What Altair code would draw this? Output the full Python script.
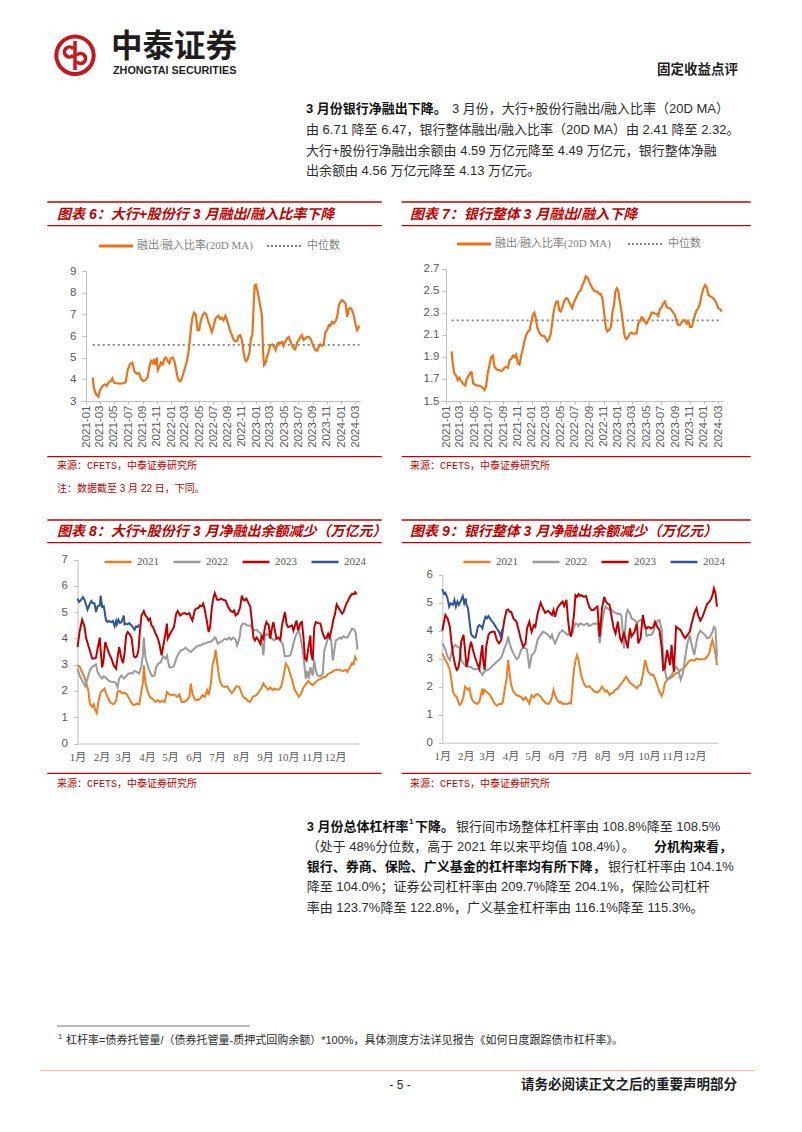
import altair as alt
import pandas as pd

# ---------------- text content ----------------
BRAND_CN = "中泰证券"
BRAND_EN = "ZHONGTAI SECURITIES"
HEADER_TAG = "固定收益点评"
P1_BOLD = "3 月份银行净融出下降。"
P1_LINES = [
    "3 月份，大行+股份行融出/融入比率（20D MA）",
    "由 6.71 降至 6.47，银行整体融出/融入比率（20D MA）由 2.41 降至 2.32。",
    "大行+股份行净融出余额由 4.59 万亿元降至 4.49 万亿元，银行整体净融",
    "出余额由 4.56 万亿元降至 4.13 万亿元。",
]
P2_L1_BOLD_A = "3 月份总体杠杆率"
P2_L1_SUP = "1"
P2_L1_BOLD_B = "下降。"
P2_L1_NORMAL = "银行间市场整体杠杆率由 108.8%降至 108.5%"
P2_L2_NORMAL = "（处于 48%分位数，高于 2021 年以来平均值 108.4%）。"
P2_L2_BOLD = "分机构来看，"
P2_L3_BOLD = "银行、券商、保险、广义基金的杠杆率均有所下降，"
P2_L3_NORMAL = "银行杠杆率由 104.1%"
P2_L4 = "降至 104.0%；证券公司杠杆率由 209.7%降至 204.1%，保险公司杠杆"
P2_L5 = "率由 123.7%降至 122.8%，广义基金杠杆率由 116.1%降至 115.3%。"
TITLE6 = "图表 6：大行+股份行 3 月融出/融入比率下降"
TITLE7 = "图表 7：银行整体 3 月融出/融入下降"
TITLE8 = "图表 8：大行+股份行 3 月净融出余额减少（万亿元）"
TITLE9 = "图表 9：银行整体 3 月净融出余额减少（万亿元）"
SOURCE = "来源：CFETS，中泰证券研究所"
NOTE = "注：数据截至 3 月 22 日，下同。"
LEG_RATIO = "融出/融入比率(20D MA)"
LEG_MED = "中位数"
FOOT_SUP = "1"
FOOTNOTE = "杠杆率=债券托管量/（债券托管量-质押式回购余额）*100%，具体测度方法详见报告《如何日度跟踪债市杠杆率》。"
PAGE_NO = "- 5 -"
DISCLAIMER = "请务必阅读正文之后的重要声明部分"

# ---------------- chart data ----------------
# 图表6: day offsets from 2021-01-01, ratio values
D6 = [29, 34, 43, 53, 60, 72, 82, 89, 96, 106,
      113, 120, 132, 146, 160, 170, 179, 189, 199, 208,
      218, 228, 236, 246, 256, 265, 272, 279, 287, 292,
      298, 304, 308, 315, 322, 330, 337, 344, 351, 358,
      364, 373, 380, 387, 394, 401, 408, 416, 426, 433,
      440, 447, 451, 457, 464, 471, 479, 486, 493, 502,
      509, 516, 523, 533, 540, 547, 555, 562, 569, 576,
      583, 590, 598, 605, 612, 619, 626, 633, 640, 648,
      655, 662, 669, 676, 682, 688, 695, 702, 708, 714,
      719, 724, 729, 737, 745, 751, 755, 760, 764, 770,
      777, 784, 791, 800, 808, 814, 820, 827, 834, 841,
      848, 856, 863, 870, 877, 884, 891, 898, 906, 913,
      920, 927, 934, 942, 949, 956, 963, 970, 977, 984,
      992, 999, 1006, 1013, 1020, 1028, 1035, 1042, 1049, 1056,
      1063, 1071, 1078, 1085, 1092, 1099, 1106, 1114, 1121, 1128,
      1135, 1142, 1149, 1156, 1164, 1168, 1174]
V6 = [4.08, 3.59, 3.31, 3.20, 3.50, 3.70, 3.77, 3.69, 3.85, 3.92,
      4.05, 3.85, 3.82, 3.80, 3.82, 3.86, 4.43, 4.71, 4.77, 4.35,
      4.26, 4.28, 4.02, 3.92, 3.97, 4.12, 4.58, 4.84, 4.74, 4.94,
      4.66, 5.00, 4.43, 4.58, 4.78, 4.69, 4.97, 5.00, 4.84, 4.74,
      4.97, 5.00, 4.81, 4.43, 4.05, 3.92, 3.95, 4.20, 4.58, 4.84,
      5.27, 5.92, 6.42, 6.88, 7.08, 6.99, 6.27, 6.27, 6.73, 6.99,
      7.08, 6.99, 6.73, 6.42, 6.19, 6.42, 6.78, 6.88, 6.93, 6.78,
      6.84, 6.73, 6.93, 6.73, 6.47, 6.22, 6.04, 5.84, 5.76, 5.77,
      6.01, 6.04, 5.81, 5.27, 4.92, 4.84, 4.97, 5.27, 5.89, 6.04,
      7.27, 8.34, 8.37, 8.03, 7.57, 7.19, 6.96, 5.27, 4.66, 4.74,
      5.04, 5.27, 5.58, 5.61, 5.50, 5.35, 5.61, 5.70, 5.66, 5.73,
      5.55, 5.76, 5.89, 5.96, 5.76, 5.58, 5.43, 5.38, 5.70, 5.81,
      5.96, 6.04, 5.81, 5.89, 5.96, 5.96, 5.89, 5.70, 5.50, 5.35,
      5.32, 5.50, 5.61, 5.55, 5.61, 6.19, 6.27, 6.50, 6.47, 6.65,
      6.58, 6.68, 6.88, 7.42, 7.57, 7.65, 7.60, 7.50, 6.88, 7.24,
      7.30, 7.19, 6.96, 6.58, 6.27, 6.35, 6.47]
MED6 = 5.59

# 图表7
D7 = [24, 28, 35, 43, 50, 57, 64, 75, 82, 88,
      96, 104, 109, 115, 123, 132, 142, 149, 156, 163,
      170, 177, 184, 192, 199, 206, 213, 220, 227, 234,
      241, 248, 255, 263, 270, 277, 284, 291, 298, 305,
      312, 319, 326, 333, 341, 348, 355, 362, 369, 375,
      380, 387, 394, 402, 409, 416, 423, 430, 437, 444,
      450, 455, 461, 468, 475, 481, 487, 494, 501, 508,
      515, 522, 529, 536, 543, 551, 558, 565, 572, 579,
      586, 593, 600, 607, 614, 622, 629, 636, 643, 650,
      657, 664, 671, 678, 685, 692, 700, 707, 714, 719,
      725, 731, 738, 745, 752, 759, 766, 773, 780, 787,
      795, 802, 809, 816, 823, 830, 837, 844, 851, 858,
      866, 873, 880, 887, 894, 901, 908, 915, 922, 929,
      937, 944, 951, 958, 965, 972, 979, 986, 993, 1000,
      1007, 1015, 1022, 1029, 1036, 1043, 1050, 1057, 1064, 1071,
      1078, 1085, 1093, 1100, 1107, 1114, 1121, 1128, 1135, 1142,
      1149, 1156, 1164, 1171]
V7 = [1.95, 1.85, 1.75, 1.73, 1.69, 1.71, 1.68, 1.65, 1.64, 1.70,
      1.73, 1.76, 1.76, 1.66, 1.65, 1.64, 1.64, 1.63, 1.62, 1.60,
      1.63, 1.75, 1.82, 1.90, 1.91, 1.81, 1.79, 1.78, 1.78, 1.77,
      1.78, 1.80, 1.81, 1.80, 1.87, 1.88, 1.91, 1.90, 1.92, 1.84,
      1.83, 1.91, 1.97, 2.04, 2.10, 2.13, 2.14, 2.22, 2.28, 2.30,
      2.26, 2.17, 2.13, 2.10, 2.09, 2.09, 2.07, 2.04, 2.06, 2.10,
      2.19, 2.28, 2.35, 2.40, 2.40, 2.32, 2.31, 2.35, 2.40, 2.43,
      2.43, 2.40, 2.37, 2.34, 2.39, 2.43, 2.46, 2.49, 2.50, 2.55,
      2.58, 2.63, 2.62, 2.59, 2.55, 2.52, 2.50, 2.49, 2.49, 2.47,
      2.47, 2.43, 2.31, 2.17, 2.13, 2.14, 2.17, 2.31, 2.38, 2.49,
      2.52, 2.50, 2.40, 2.31, 2.19, 2.08, 2.06, 2.08, 2.11, 2.12,
      2.11, 2.11, 2.11, 2.20, 2.22, 2.26, 2.25, 2.22, 2.20, 2.23,
      2.26, 2.30, 2.30, 2.29, 2.29, 2.27, 2.33, 2.35, 2.38, 2.40,
      2.35, 2.34, 2.34, 2.32, 2.30, 2.28, 2.22, 2.19, 2.19, 2.21,
      2.23, 2.23, 2.20, 2.22, 2.17, 2.17, 2.22, 2.28, 2.32, 2.34,
      2.38, 2.46, 2.52, 2.55, 2.53, 2.46, 2.45, 2.44, 2.43, 2.41,
      2.38, 2.34, 2.33, 2.31]
MED7 = 2.23

YEARS = ["2021", "2022", "2023", "2024"]
YEAR_COLORS = ["#ee7d22", "#9a9a9a", "#c00000", "#2f5597"]

# 图表8: day of year, 万亿元
D8_21 = [0, 3, 8, 11, 14, 16, 19, 21, 23, 25,
         27, 30, 33, 35, 37, 40, 43, 47, 50, 52,
         55, 58, 61, 64, 67, 70, 73, 77, 80, 83,
         85, 86, 88, 91, 94, 97, 101, 104, 107, 110,
         113, 116, 119, 122, 125, 129, 132, 135, 138, 142,
         145, 147, 149, 152, 156, 159, 162, 165, 168, 170,
         173, 175, 178, 179, 181, 183, 185, 188, 191, 194,
         197, 200, 203, 206, 210, 212, 215, 218, 221, 224,
         227, 229, 232, 235, 238, 241, 244, 247, 250, 253,
         255, 258, 261, 264, 267, 270, 273, 276, 279, 281,
         284, 287, 290, 293, 296, 299, 302, 305, 307, 310,
         313, 316, 319, 322, 324, 327, 330, 333, 336, 339,
         342, 345, 348, 350, 353, 356, 358, 360, 362]
V8_21 = [2.97, 2.91, 2.59, 2.34, 2.03, 1.52, 1.39, 1.49, 1.27, 1.16,
         1.58, 1.96, 2.03, 2.09, 1.90, 1.71, 1.54, 1.49, 1.62, 1.96,
         2.00, 1.90, 1.94, 1.87, 1.71, 1.54, 1.46, 1.52, 1.49, 2.03,
         2.34, 2.97, 2.34, 1.96, 1.77, 1.71, 1.58, 1.65, 1.58, 1.62,
         1.58, 1.96, 1.87, 1.84, 1.87, 1.77, 1.87, 1.58, 1.58, 1.65,
         1.77, 2.28, 1.90, 1.67, 1.65, 1.71, 1.84, 1.77, 2.03, 1.84,
         2.28, 2.97, 3.32, 3.57, 3.10, 2.66, 2.34, 2.18, 2.15, 2.18,
         2.03, 1.92, 2.03, 2.18, 2.15, 1.96, 1.77, 1.71, 1.62, 1.58,
         1.77, 1.80, 1.84, 1.96, 2.09, 2.28, 2.15, 2.05, 2.13, 2.03,
         2.09, 2.05, 2.05, 2.15, 2.53, 3.04, 2.91, 2.63, 2.34, 2.09,
         1.92, 1.77, 1.90, 2.13, 2.25, 2.38, 2.28, 2.22, 2.28, 2.38,
         2.43, 2.47, 2.53, 2.53, 2.63, 2.68, 2.72, 2.78, 2.81, 2.81,
         2.78, 2.76, 2.81, 2.72, 2.89, 3.06, 3.01, 3.29, 3.16]
D8_22 = [0, 3, 7, 10, 13, 16, 19, 22, 24, 26,
         29, 32, 34, 36, 39, 41, 44, 48, 50, 52,
         54, 57, 60, 63, 65, 68, 71, 74, 77, 80,
         83, 85, 86, 88, 91, 94, 97, 100, 102, 105,
         108, 111, 114, 116, 119, 122, 125, 128, 131, 134,
         137, 140, 144, 147, 150, 153, 157, 160, 163, 166,
         169, 172, 175, 178, 179, 182, 185, 188, 191, 194,
         197, 199, 202, 205, 207, 210, 212, 214, 217, 220,
         224, 227, 229, 232, 235, 238, 241, 243, 246, 249,
         252, 255, 257, 260, 264, 266, 269, 272, 276, 279,
         281, 284, 287, 289, 292, 294, 296, 298, 300, 302,
         305, 307, 309, 311, 315, 318, 320, 322, 324, 327,
         329, 331, 333, 335, 337, 340, 342, 345, 348, 350,
         353, 356, 359, 361, 363]
V8_22 = [2.85, 2.56, 2.34, 2.18, 2.47, 2.78, 2.91, 2.97, 3.01, 2.72,
         2.56, 2.47, 2.56, 2.53, 2.43, 2.38, 2.34, 2.34, 2.28, 2.13,
         2.47, 2.59, 2.47, 2.56, 2.63, 2.68, 2.66, 2.76, 2.72, 2.66,
         2.97, 3.42, 4.03, 3.29, 2.97, 2.72, 2.56, 2.59, 2.91, 3.04,
         3.10, 3.32, 3.23, 3.35, 2.91, 2.89, 2.94, 3.23, 3.42, 3.54,
         3.57, 3.65, 3.54, 3.48, 3.57, 3.65, 3.73, 3.73, 3.80, 3.80,
         3.86, 3.86, 3.92, 4.03, 4.03, 3.80, 3.86, 3.90, 3.99, 3.95,
         4.03, 3.95, 4.03, 3.95, 3.73, 3.99, 4.46, 4.56, 4.56, 4.49,
         4.49, 4.37, 4.30, 4.33, 4.24, 4.18, 3.35, 4.11, 4.18, 4.05,
         3.99, 3.92, 3.99, 4.03, 3.86, 3.80, 3.32, 3.32, 3.35, 3.67,
         3.92, 4.18, 4.30, 4.05, 3.54, 3.04, 2.47, 2.76, 2.47, 2.91,
         2.59, 3.16, 2.78, 2.59, 2.56, 2.66, 3.54, 3.73, 3.95, 4.11,
         3.92, 3.16, 3.54, 3.92, 3.95, 4.03, 3.99, 4.08, 4.03, 4.03,
         4.20, 4.37, 4.33, 4.18, 3.57]
D8_23 = [0, 3, 6, 9, 11, 14, 16, 19, 22, 24,
         26, 29, 30, 32, 34, 36, 38, 41, 44, 47,
         50, 52, 54, 57, 59, 61, 63, 65, 67, 70,
         73, 75, 77, 79, 81, 83, 86, 88, 90, 92,
         94, 96, 98, 101, 103, 105, 107, 109, 111, 114,
         116, 117, 119, 122, 125, 128, 130, 133, 136, 139,
         142, 145, 147, 149, 152, 154, 157, 159, 161, 163,
         165, 168, 170, 172, 174, 176, 178, 181, 184, 186,
         189, 192, 195, 198, 201, 203, 205, 208, 211, 213,
         215, 217, 219, 222, 224, 226, 228, 230, 232, 235,
         237, 239, 241, 243, 245, 248, 250, 252, 254, 256,
         258, 260, 263, 265, 267, 269, 271, 273, 276, 278,
         280, 282, 284, 286, 289, 291, 293, 295, 297, 299,
         302, 303, 305, 307, 309, 312, 315, 317, 319, 321,
         323, 325, 327, 330, 332, 334, 336, 338, 340, 343,
         345, 347, 349, 351, 353, 356, 358, 360, 362]
V8_23 = [3.67, 4.30, 4.71, 4.46, 4.03, 3.73, 3.54, 3.23, 3.23, 3.27,
         3.61, 4.03, 3.54, 2.89, 3.23, 3.86, 3.67, 3.42, 3.23, 2.97,
         2.85, 3.29, 3.67, 3.23, 3.06, 3.42, 4.11, 4.24, 4.18, 4.03,
         3.32, 3.27, 3.32, 3.54, 4.30, 4.87, 5.04, 4.87, 4.81, 4.68,
         4.75, 4.49, 4.43, 4.20, 4.08, 3.92, 3.67, 3.35, 3.67, 4.18,
         4.56, 3.99, 4.11, 4.28, 4.43, 4.94, 5.04, 4.87, 4.94, 4.96,
         4.91, 4.96, 4.81, 4.68, 5.06, 5.13, 5.16, 5.25, 5.22, 5.32,
         5.09, 4.62, 4.24, 4.43, 5.13, 5.51, 5.72, 5.47, 5.47, 5.51,
         5.47, 5.44, 5.22, 5.06, 5.00, 5.06, 4.87, 4.94, 5.19, 5.63,
         5.47, 5.44, 5.51, 5.32, 5.22, 4.68, 4.05, 3.92, 4.03, 3.92,
         3.80, 4.08, 3.99, 4.43, 4.62, 4.49, 3.99, 4.37, 4.62, 4.30,
         3.99, 4.03, 3.95, 4.46, 4.75, 5.00, 4.56, 4.43, 4.46, 4.49,
         4.30, 4.49, 4.68, 4.30, 4.58, 4.62, 4.03, 3.23, 3.16, 3.57,
         4.11, 3.42, 3.16, 4.43, 4.62, 4.58, 4.56, 4.30, 4.11, 3.99,
         4.03, 4.18, 4.03, 4.43, 4.75, 4.94, 5.29, 5.19, 5.09, 4.94,
         5.00, 5.19, 5.34, 5.44, 5.57, 5.70, 5.67, 5.76, 5.67]
D8_24 = [0, 2, 4, 7, 9, 11, 13, 16, 18, 20,
         22, 24, 26, 29, 30, 32, 34, 35, 37, 39,
         41, 44, 46, 48, 50, 51, 53, 55, 57, 60,
         61, 63, 65, 67, 70, 72, 74, 76, 78, 80]
V8_24 = [5.51, 5.38, 5.44, 5.57, 5.47, 5.29, 5.09, 5.32, 5.42, 5.34,
         5.34, 5.00, 5.22, 5.25, 5.63, 5.19, 5.22, 5.06, 4.68, 4.62,
         4.66, 4.62, 4.66, 4.46, 4.66, 4.53, 4.71, 4.58, 4.62, 4.87,
         4.53, 4.56, 4.53, 4.58, 4.49, 4.41, 4.33, 4.46, 4.43, 4.53]

# 图表9: day of year (shared by 2021-2023), 万亿元
D9 = [0, 4, 7, 10, 12, 14, 17, 19, 21, 23,
      25, 28, 30, 32, 34, 36, 38, 40, 43, 46,
      49, 51, 53, 54, 56, 58, 61, 63, 66, 69,
      72, 75, 78, 80, 82, 85, 87, 89, 91, 94,
      98, 101, 104, 107, 110, 112, 115, 118, 121, 123,
      126, 130, 133, 136, 140, 143, 145, 147, 149, 152,
      155, 157, 159, 161, 164, 166, 168, 170, 172, 174,
      176, 178, 180, 182, 184, 187, 190, 192, 194, 197,
      200, 202, 205, 208, 211, 214, 216, 218, 221, 223,
      226, 229, 232, 235, 237, 240, 243, 245, 248, 250,
      254, 257, 259, 262, 265, 268, 270, 272, 276, 279,
      281, 284, 287, 290, 292, 294, 297, 301, 303, 306,
      309, 312, 315, 318, 321, 324, 327, 329, 333, 336,
      338, 341, 344, 347, 350, 353, 355, 357, 359, 361,
      363]
V9_21 = [3.19, 2.95, 2.81, 2.60, 2.24, 1.82, 1.67, 1.64, 1.46, 1.35,
         1.40, 1.64, 2.00, 1.94, 1.88, 1.94, 1.64, 1.50, 1.43, 1.38,
         1.46, 1.70, 1.94, 1.76, 1.88, 1.82, 1.76, 1.70, 1.55, 1.40,
         1.32, 1.38, 1.38, 1.46, 1.82, 2.30, 2.95, 2.48, 2.06, 1.82,
         1.70, 1.67, 1.64, 1.52, 1.62, 1.55, 1.40, 1.70, 1.62, 1.70,
         1.74, 1.64, 1.52, 1.43, 1.38, 1.46, 1.64, 1.88, 1.70, 1.52,
         1.43, 1.46, 1.38, 1.40, 1.38, 1.40, 1.43, 1.40, 2.00, 2.60,
         2.93, 3.13, 2.95, 2.65, 2.36, 2.12, 2.00, 2.00, 2.02, 1.94,
         1.86, 1.82, 1.79, 1.86, 2.00, 1.90, 1.82, 1.86, 1.70, 1.76,
         1.79, 1.90, 1.94, 2.06, 2.12, 2.24, 2.36, 2.26, 2.14, 2.10,
         2.02, 1.94, 2.02, 2.06, 2.42, 2.95, 2.74, 2.54, 2.42, 2.42,
         2.30, 2.06, 1.82, 1.67, 1.82, 2.12, 2.24, 2.36, 2.33, 2.42,
         2.48, 2.50, 2.60, 2.65, 2.71, 2.83, 2.93, 2.95, 2.93, 3.01,
         2.98, 2.98, 2.98, 2.98, 3.07, 3.21, 3.49, 3.67, 3.45, 3.19,
         2.77]
V9_22 = [3.55, 3.35, 3.07, 2.95, 3.19, 3.37, 3.49, 3.45, 3.40, 3.40,
         2.95, 2.83, 2.77, 2.71, 2.74, 2.69, 2.71, 2.65, 2.62, 2.65,
         2.60, 2.50, 2.42, 2.48, 2.54, 2.57, 2.62, 2.65, 2.74, 2.81,
         2.89, 2.95, 3.05, 3.19, 3.37, 3.55, 3.79, 3.55, 3.37, 3.19,
         2.98, 3.05, 3.31, 3.40, 3.37, 3.33, 2.65, 3.13, 3.19, 3.31,
         3.69, 3.85, 3.96, 3.93, 3.85, 3.73, 3.85, 3.67, 3.55, 3.73,
         3.93, 3.96, 4.02, 3.96, 3.88, 3.85, 3.90, 3.85, 3.90, 4.14,
         4.26, 4.24, 4.17, 4.26, 4.24, 4.20, 4.24, 4.26, 4.17, 4.20,
         4.26, 4.24, 4.29, 3.55, 4.26, 4.74, 4.86, 4.80, 4.74, 4.76,
         4.68, 4.64, 4.60, 4.60, 4.50, 3.37, 4.56, 4.74, 4.62, 4.44,
         4.38, 4.29, 4.33, 4.38, 4.36, 4.14, 3.81, 3.85, 3.85, 3.96,
         4.17, 4.33, 4.38, 4.02, 3.07, 2.60, 2.24, 2.30, 2.42, 2.54,
         2.71, 2.60, 2.25, 2.48, 3.07, 3.55, 3.85, 3.57, 3.13, 3.61,
         3.85, 4.00, 3.93, 3.85, 3.73, 3.76, 3.85, 3.96, 4.14, 4.07,
         3.07]
V9_23 = [4.00, 4.56, 4.44, 4.14, 3.61, 3.19, 2.77, 2.60, 2.65, 2.95,
         3.61, 3.85, 3.33, 2.71, 2.95, 3.37, 3.61, 3.37, 3.07, 2.83,
         2.65, 3.13, 3.49, 2.95, 2.60, 3.43, 3.85, 3.93, 3.96, 3.96,
         3.67, 3.55, 3.67, 4.02, 4.38, 4.74, 4.76, 4.68, 4.68, 4.44,
         4.32, 4.02, 3.67, 3.43, 3.55, 4.08, 4.32, 3.96, 4.20, 4.14,
         4.62, 5.00, 4.80, 4.64, 4.71, 4.62, 4.56, 4.74, 4.50, 4.80,
         4.92, 4.98, 5.04, 4.88, 5.10, 4.44, 3.96, 3.79, 4.14, 4.56,
         5.27, 5.21, 5.31, 5.24, 5.27, 5.21, 5.24, 5.04, 4.86, 4.74,
         4.74, 4.80, 4.86, 3.79, 4.80, 5.21, 5.04, 4.98, 4.92, 4.62,
         4.14, 3.90, 4.32, 3.73, 3.61, 3.90, 3.61, 3.37, 4.08, 3.79,
         3.96, 4.26, 3.55, 3.73, 4.56, 4.14, 4.08, 4.14, 4.08, 4.14,
         4.32, 4.14, 4.02, 3.37, 2.60, 2.65, 3.31, 2.77, 3.49, 2.54,
         4.14, 4.08, 4.02, 3.85, 3.73, 3.85, 3.96, 4.20, 4.62, 4.80,
         4.56, 4.36, 4.50, 4.74, 4.95, 5.04, 5.12, 5.27, 5.51, 5.33,
         4.86]
D9_24 = [0, 2, 4, 7, 9, 11, 14, 16, 18, 20,
         22, 25, 27, 29, 31, 32, 34, 36, 38, 40,
         42, 44, 47, 49, 51, 53, 55, 57, 59, 61,
         64, 66, 68, 70, 72, 75, 77, 79, 81]
V9_24 = [5.48, 5.33, 5.36, 5.15, 4.86, 4.98, 4.92, 5.10, 4.86, 5.04,
         4.92, 5.10, 5.24, 4.98, 5.15, 4.92, 4.80, 4.32, 3.88, 3.81,
         3.76, 3.76, 4.14, 4.20, 4.17, 4.08, 4.32, 4.50, 4.44, 4.52,
         4.40, 4.32, 4.26, 4.17, 4.08, 3.96, 3.81, 4.02, 4.08]

# ---------------- layout / style ----------------
W, H = 786, 1116
M = 8  # page margin: page pixel -> chart pixel


def P(v):
    return v - M


CJK = "Noto Sans CJK SC"
SANS = "Liberation Sans, Noto Sans CJK SC"
SERIF = "Liberation Serif, Noto Sans CJK SC"
MONO = "Liberation Mono, Noto Sans CJK SC"
RED = "#c00000"
LOGO_RED = "#c8161e"
ORANGE = "#e8731c"
BODY = "#2b2b2b"
AXIS_GRAY = "#bfbfbf"
LABEL_GRAY = "#595959"

ONE = pd.DataFrame({"k": [0]})


def T(s, x, y, size=13, weight="normal", color=BODY, font=SANS, align="left", style="normal"):
    return alt.Chart(ONE).mark_text(
        align=align, baseline="middle", fontSize=size, fontWeight=weight,
        fontStyle=style, color=color, font=font
    ).encode(x=alt.value(P(x)), y=alt.value(P(y)), text=alt.value(s))


def HR(x1, x2, y, color, width=1.0, dash=None):
    kw = dict(color=color, strokeWidth=width)
    if dash:
        kw["strokeDash"] = dash
    return alt.Chart(ONE).mark_rule(**kw).encode(
        x=alt.value(P(x1)), x2=alt.value(P(x2)), y=alt.value(P(y)))


def VR(x, y1, y2, color, width=1.0):
    return alt.Chart(ONE).mark_rule(color=color, strokeWidth=width).encode(
        x=alt.value(P(x)), y=alt.value(P(y1)), y2=alt.value(P(y2)))


def ARC(cx, cy, r_in, r_out, t1, t2, color):
    return alt.Chart(ONE).mark_arc(
        innerRadius=r_in, outerRadius=r_out, theta=t1, theta2=t2, color=color
    ).encode(x=alt.value(P(cx)), y=alt.value(P(cy)))


def dt(y, m, d):
    return alt.DateTime(year=y, month=m, date=d)


def ax(**kw):
    base = dict(domainColor=AXIS_GRAY, tickColor=AXIS_GRAY, labelColor=LABEL_GRAY,
                grid=False, title=None, labelOverlap=False, labelFlush=False,
                domainWidth=1)
    base.update(kw)
    return alt.Axis(**base)


PI = 3.14159265

layers = []

# ---- header ----
layers += [
    ARC(75, 55.3, 16.7, 20.7, 0, 2 * PI, LOGO_RED),
    VR(75, 41, 70, LOGO_RED, 3.5),
    ARC(69.5, 52, 3.2, 6.8, 0.72 * PI, 2.28 * PI, LOGO_RED),
    ARC(80.5, 58.5, 3.2, 6.8, 1.72 * PI, 3.28 * PI, LOGO_RED),
    T(BRAND_CN, 111, 47.5, size=31.5, weight="bold", color="#1e1e1e", font=CJK),
    T(BRAND_EN, 113, 71.3, size=10.8, weight="bold", color="#1e1e1e", font="Liberation Sans"),
    T(HEADER_TAG, 657, 70, size=13.5, weight="bold", color="#1e1e1e", font=CJK),
]

# ---- paragraph 1 ----
P1_Y = [109, 130, 150.7, 171.3]
layers.append(T(P1_BOLD, 306, P1_Y[0], weight="bold", color="#111111"))
layers.append(T(P1_LINES[0], 452, P1_Y[0]))
for s, y in zip(P1_LINES[1:], P1_Y[1:]):
    layers.append(T(s, 306, y))

# ---- chart blocks: titles, rules, sources ----
for (x1, x2, tx, title) in [(47.3, 381.7, 57, TITLE6), (401.7, 750.7, 410, TITLE7)]:
    layers += [HR(x1, x2, 202, RED, 1.3), HR(x1, x2, 225.7, RED, 1.3),
               T(title, tx, 214.5, size=14, weight="bold", color=RED, style="italic"),
               HR(x1, x2, 456.7, RED, 1.3),
               T(SOURCE, tx, 465.7, size=10, color=RED, font=MONO)]
layers.append(T(NOTE, 57, 489, size=10, color=RED, font=SANS))
for (x1, x2, tx, title) in [(47.3, 381.7, 57, TITLE8), (401.7, 750.7, 410, TITLE9)]:
    layers += [HR(x1, x2, 520, RED, 1.3), HR(x1, x2, 542.7, RED, 1.3),
               T(title, tx, 531.5, size=14, weight="bold", color=RED, style="italic"),
               HR(x1, x2, 773.3, RED, 1.3),
               T(SOURCE, tx, 784, size=10, color=RED, font=MONO)]

# legends of charts 6 / 7
for (lx, ly, tx, dx, tdx) in [(99, 246, 137, 267, 307), (457, 244, 495, 628, 668)]:
    layers += [HR(lx, lx + 34, ly, ORANGE, 3),
               T(LEG_RATIO, tx, ly, size=11, color="#7f7f7f", font=SERIF),
               HR(dx, dx + 34, ly, "#7f7f7f", 2, dash=[2, 2]),
               T(LEG_MED, tdx, ly, size=11, color="#7f7f7f", font=SERIF)]

# ---- paragraph 2 ----
P2_Y = [826.7, 846.7, 866.7, 887.3, 907.7]
layers += [
    T(P2_L1_BOLD_A, 306.7, P2_Y[0], weight="bold", color="#111111"),
    T(P2_L1_SUP, 409, P2_Y[0] - 5, size=8, weight="bold", color="#111111"),
    T(P2_L1_BOLD_B, 415, P2_Y[0], weight="bold", color="#111111"),
    T(P2_L1_NORMAL, 456, P2_Y[0]),
    T(P2_L2_NORMAL, 306.7, P2_Y[1]),
    T(P2_L2_BOLD, 654, P2_Y[1], weight="bold", color="#111111"),
    T(P2_L3_BOLD, 306.7, P2_Y[2], weight="bold", color="#111111"),
    T(P2_L3_NORMAL, 608, P2_Y[2]),
    T(P2_L4, 306.7, P2_Y[3]),
    T(P2_L5, 306.7, P2_Y[4]),
]

# ---- footnote & footer ----
layers += [
    HR(57, 250, 1026, "#555555", 0.8),
    T(FOOT_SUP, 58, 1037, size=7.5, color=BODY),
    T(FOOTNOTE, 66, 1041, size=11, color=BODY),
    HR(40, 755, 1070.7, "#f2c6a2", 1.2),
    T(PAGE_NO, 400, 1085, size=12, color=BODY, font="Liberation Sans", align="center"),
    T(DISCLAIMER, 521, 1085, size=13.5, weight="bold", color="#1e1e1e", font=CJK),
]

# ---------------- charts 6 / 7 ----------------
BIMONTH = [dt(y, m, 1) for y in range(2021, 2025) for m in (1, 3, 5, 7, 9, 11) if (y, m) <= (2024, 3)]
T0 = pd.Timestamp("2021-01-01")


def ratio_panel(days, vals, med, x0, x1, ybot, ytop, dom, ticks, fmt, lab_pad):
    df = pd.DataFrame({"date": T0 + pd.to_timedelta(days, unit="D"), "v": vals})
    xs = alt.Scale(domain=[dt(2021, 1, 1), dt(2024, 3, 22)], range=[P(x0), P(x1)], nice=False)
    ys = alt.Scale(domain=dom, range=[P(ybot), P(ytop)], nice=False, zero=False)
    xa = ax(orient="bottom", offset=P(ybot) - H, values=BIMONTH, format="%Y-%m",
            labelAngle=270, labelFont="Liberation Sans", labelFontSize=11.5,
            tickSize=3, labelPadding=1)
    ya = ax(orient="left", offset=-P(x0), values=ticks, format=fmt,
            labelFont="Liberation Sans", labelFontSize=11.5, tickSize=4, labelPadding=lab_pad)
    mdf = pd.DataFrame({"d0": [df["date"].min()], "d1": [df["date"].max()], "m": [med]})
    rule = alt.Chart(mdf).mark_rule(color="#7f7f7f", strokeWidth=1.6, strokeDash=[2, 3]).encode(
        x=alt.X("d0:T", scale=xs, axis=None), x2="d1:T",
        y=alt.Y("m:Q", scale=ys, axis=None))
    line = alt.Chart(df).mark_line(color=ORANGE, strokeWidth=2.2).encode(
        x=alt.X("date:T", scale=xs, axis=xa), y=alt.Y("v:Q", scale=ys, axis=ya))
    return [rule, line]


p6 = ratio_panel(D6, V6, MED6, 86, 360, 401, 271, [3, 9], [3, 4, 5, 6, 7, 8, 9], "d", 6)
p7 = ratio_panel(D7, V7, MED7, 446, 723, 401, 268.5, [1.5, 2.7],
                 [1.5, 1.7, 1.9, 2.1, 2.3, 2.5, 2.7], ".1f", 3)

# ---------------- charts 8 / 9 ----------------
Y0 = pd.Timestamp("2001-01-01")
MONTHS = [dt(2001, m, 1) for m in range(1, 13)]


def year_panel(series, x0, x1, ybot, ytop, ymax, lx, ly):
    frames = []
    for yr, d, v in series:
        frames.append(pd.DataFrame({"md": Y0 + pd.to_timedelta(d, unit="D"), "v": v, "year": yr}))
    df = pd.concat(frames, ignore_index=True)
    xs = alt.Scale(domain=[dt(2001, 1, 1), dt(2002, 1, 1)], range=[P(x0), P(x1)], nice=False)
    ys = alt.Scale(domain=[0, ymax], range=[P(ybot), P(ytop)], nice=False, zero=False)
    xa = ax(orient="bottom", offset=P(ybot) - H, values=MONTHS, format="%-m月",
            labelFont=SERIF, labelFontSize=11, ticks=False, labelPadding=8)
    ya = ax(orient="left", offset=-P(x0), values=list(range(0, ymax + 1)),
            labelFont="Liberation Sans", labelFontSize=11.5, tickSize=4, labelPadding=6)
    leg = alt.Legend(orient="none", legendX=P(lx), legendY=P(ly), direction="horizontal",
                     title=None, symbolType="stroke", symbolStrokeWidth=2.5, symbolSize=729,
                     labelFont="Liberation Serif", labelFontSize=11, labelColor=LABEL_GRAY,
                     columnPadding=9, labelOffset=4, padding=0)
    return alt.Chart(df).mark_line(strokeWidth=2).encode(
        x=alt.X("md:T", scale=xs, axis=xa),
        y=alt.Y("v:Q", scale=ys, axis=ya),
        color=alt.Color("year:N", scale=alt.Scale(domain=YEARS, range=YEAR_COLORS), legend=leg),
    )


p8 = year_panel([("2021", D8_21, V8_21), ("2022", D8_22, V8_22),
                 ("2023", D8_23, V8_23), ("2024", D8_24, V8_24)],
                77.5, 359, 743.5, 559.5, 7, 103, 547)
p9 = year_panel([("2021", D9, V9_21), ("2022", D9, V9_22),
                 ("2023", D9, V9_23), ("2024", D9_24, V9_24)],
                442.3, 718.5, 742.7, 574.7, 6, 462, 547)

chart = alt.layer(*layers, *p6, *p7, p8, p9).resolve_scale(
    x="independent", y="independent", color="independent"
).resolve_axis(x="independent", y="independent").resolve_legend(
    color="independent"
).properties(width=W, height=H, padding=0, background="white").configure_view(stroke=None)

chart.save("out.html", embed_options={"renderer": "svg", "actions": False})
